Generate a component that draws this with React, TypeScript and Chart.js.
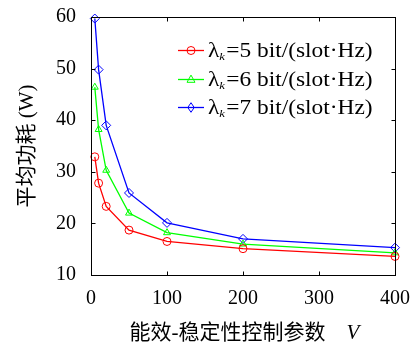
import React, { useEffect, useRef } from "react";
import { Chart, registerables } from "chart.js";

Chart.register(...registerables);

const vValues = [5, 10, 20, 50, 100, 200, 400];
const power5 = [32.9, 27.8, 23.3, 18.7, 16.5, 15.1, 13.6];
const power6 = [46.4, 38.2, 30.3, 22.0, 18.2, 16.0, 14.3];
const power7 = [59.7, 49.8, 39.0, 25.9, 20.1, 17.0, 15.3];
const seriesLabels = ["5", "6", "7"];
const xTicks = [0, 100, 200, 300, 400];
const yTicks = [10, 20, 30, 40, 50, 60];
const xTitle = "能效-稳定性控制参数";
const xTitleVar = "V";
const yTitle = "平均功耗 (W)";

const LAT = "\"Liberation Serif\"";
const SERIF = "\"Liberation Serif\", \"Noto Sans CJK SC\"";
const colors = ["#ff0000", "#00ff00", "#0000ff"];
const styles = ["circle", "triangle", "rectRot"];

function drawMarker(ctx: CanvasRenderingContext2D, style: string, x: number, y: number, r: number) {
  ctx.beginPath();
  if (style === "circle") {
    ctx.arc(x, y, r, 0, Math.PI * 2);
  } else if (style === "triangle") {
    ctx.moveTo(x, y - r * 1.1);
    ctx.lineTo(x + r, y + r * 0.7);
    ctx.lineTo(x - r, y + r * 0.7);
    ctx.closePath();
  } else {
    ctx.moveTo(x, y - r * 1.2);
    ctx.lineTo(x + r * 0.8, y);
    ctx.lineTo(x, y + r * 1.2);
    ctx.lineTo(x - r * 0.8, y);
    ctx.closePath();
  }
  ctx.stroke();
}

const framePlugin = {
  id: "frame",
  afterDatasetsDraw(chart: any) {
    const ctx: CanvasRenderingContext2D = chart.ctx;
    const { left, right, top, bottom } = chart.chartArea;
    const xs = chart.scales.x;
    const ys = chart.scales.y;
    ctx.save();
    ctx.strokeStyle = "#000";
    ctx.lineWidth = 1;
    const L = Math.round(left) + 0.5;
    const R = Math.round(right) + 0.5;
    const T = Math.round(top) + 0.5;
    const B = Math.round(bottom) + 0.5;
    ctx.strokeRect(L, T, R - L, B - T);
    const tl = 4;
    ctx.beginPath();
    xTicks.forEach((v) => {
      const px = Math.round(xs.getPixelForValue(v)) + 0.5;
      ctx.moveTo(px, B);
      ctx.lineTo(px, B - tl);
      ctx.moveTo(px, T);
      ctx.lineTo(px, T + tl);
    });
    yTicks.forEach((v) => {
      const py = Math.round(ys.getPixelForValue(v)) + 0.5;
      ctx.moveTo(L, py);
      ctx.lineTo(L + tl, py);
      ctx.moveTo(R, py);
      ctx.lineTo(R - tl, py);
    });
    ctx.stroke();

    // legend
    const rowY = [50, 79, 107];
    chart.data.datasets.forEach((ds: any, i: number) => {
      const y = rowY[i];
      ctx.strokeStyle = colors[i];
      ctx.lineWidth = 1.3;
      ctx.beginPath();
      ctx.moveTo(178, y + 0.5);
      ctx.lineTo(204, y + 0.5);
      ctx.stroke();
      ctx.lineWidth = 1;
      drawMarker(ctx, styles[i], 191, y + 0.5, 4);
      ctx.fillStyle = "#000";
      ctx.textBaseline = "alphabetic";
      ctx.textAlign = "left";
      ctx.save();
      ctx.translate(208, y + 7);
      ctx.scale(1.17, 1);
      let x = 0;
      ctx.font = "20px " + LAT;
      ctx.fillText("λ", x, 0);
      x += ctx.measureText("λ").width;
      ctx.font = "italic 11px " + LAT;
      ctx.fillText("k", x, 3);
      x += ctx.measureText("k").width + 1;
      ctx.font = "20px " + LAT;
      ctx.fillText("=" + seriesLabels[i] + " bit/(slot·Hz)", x, 0);
      ctx.restore();
    });

    // x title
    ctx.fillStyle = "#000";
    ctx.textBaseline = "middle";
    ctx.textAlign = "left";
    ctx.font = "21px " + SERIF;
    const w1 = ctx.measureText(xTitle).width;
    const sx = (left + right) / 2 + 2 - (w1 + 35) / 2;
    ctx.fillText(xTitle, sx, 333);
    ctx.font = "italic 21px " + LAT;
    ctx.fillText(xTitleVar, sx + w1 + 21, 333);
    ctx.restore();
  },
};

const zeroPad = (s: any) => {
  s.paddingTop = 0;
  s.paddingBottom = 0;
  s.paddingLeft = 0;
  s.paddingRight = 0;
};

export default function App() {
  const ref = useRef<HTMLCanvasElement>(null);
  useEffect(() => {
    document.body.style.margin = "0";
    const mk = (data: number[], i: number) => ({
      label: seriesLabels[i],
      data: vValues.map((v, j) => ({ x: v, y: data[j] })),
      borderColor: colors[i],
      backgroundColor: "rgba(0,0,0,0)",
      borderWidth: 1.3,
      pointStyle: styles[i],
      pointRadius: i === 2 ? 4.5 : 4,
      pointBorderWidth: 1,
      pointBorderColor: colors[i],
      pointBackgroundColor: "rgba(0,0,0,0)",
      tension: 0,
      clip: false as any,
    });
    const chart = new Chart(ref.current!, {
      type: "line",
      data: {
        datasets: [mk(power5, 0), mk(power6, 1), mk(power7, 2)],
      },
      plugins: [framePlugin],
      options: {
        animation: false,
        responsive: false,
        layout: { autoPadding: false, padding: { left: 0, right: 19, top: 17, bottom: 0 } },
        plugins: { legend: { display: false }, tooltip: { enabled: false } },
        scales: {
          x: {
            type: "linear",
            min: 0,
            max: 400,
            afterBuildTicks: (s: any) => {
              s.ticks = xTicks.map((v) => ({ value: v }));
            },
            afterFit: (s: any) => {
              s.height = 72;
              zeroPad(s);
            },
            grid: { display: false, drawTicks: false },
            border: { display: false },
            ticks: {
              color: "#000",
              padding: 12,
              maxRotation: 0,
              font: { family: LAT, size: 20 },
            },
          },
          y: {
            type: "linear",
            min: 10,
            max: 60,
            afterBuildTicks: (s: any) => {
              s.ticks = yTicks.map((v) => ({ value: v }));
            },
            afterFit: (s: any) => {
              s.width = 91;
              zeroPad(s);
            },
            grid: { display: false, drawTicks: false },
            border: { display: false },
            title: {
              display: true,
              text: yTitle,
              color: "#000",
              font: { family: SERIF, size: 21 },
              padding: { top: 15, bottom: 0 },
            },
            ticks: {
              color: "#000",
              padding: 15,
              font: { family: LAT, size: 20 },
            },
          },
        },
      },
    });
    return () => chart.destroy();
  }, []);
  return (
    <div style={{ position: "relative", width: 414, height: 347, background: "#fff" }}>
      <canvas ref={ref} width={414} height={347} style={{ width: 414, height: 347 }} />
    </div>
  );
}
